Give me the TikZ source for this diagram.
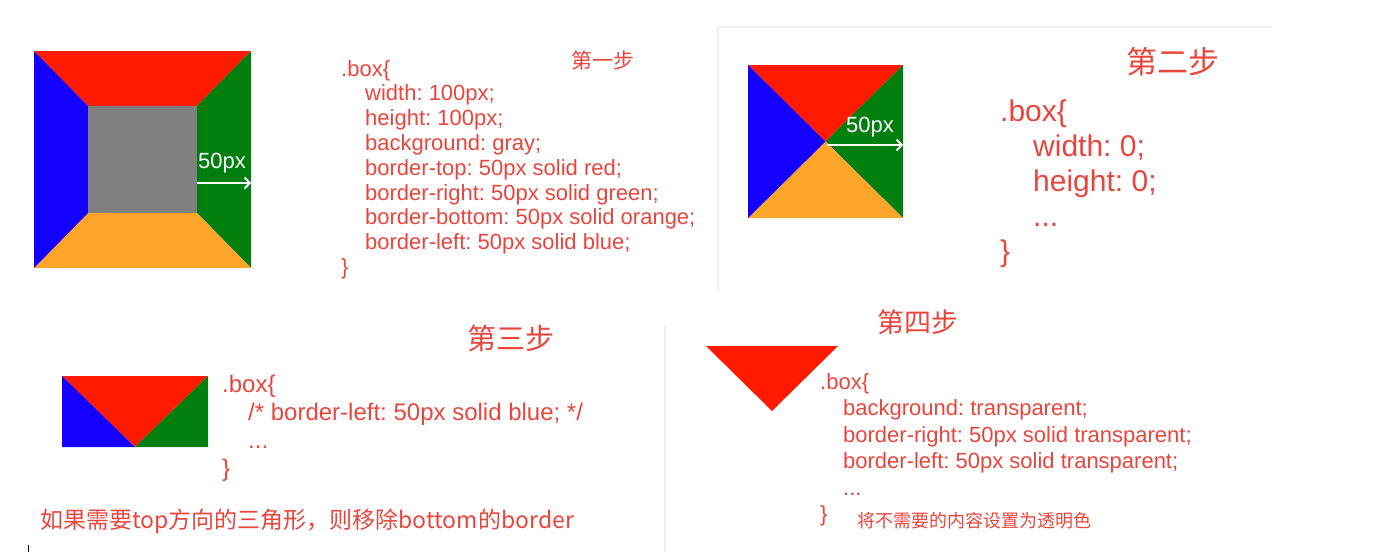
\documentclass[tikz,border=0pt]{standalone}
\usepackage{fontspec}
\setmainfont{Liberation Sans}
\newfontfamily\cjk{Noto Sans CJK SC}
\frenchspacing
\usetikzlibrary{arrows.meta}
\definecolor{boxred}{HTML}{FF1A00}
\definecolor{boxgreen}{HTML}{007F0F}
\definecolor{boxblue}{HTML}{1400FF}
\definecolor{boxorange}{HTML}{FFA52A}
\definecolor{boxgray}{HTML}{808080}
\definecolor{ink}{HTML}{E8453C}
\definecolor{rule}{HTML}{F0F0F0}

\begin{document}
\begin{tikzpicture}[x=1pt,y=-1pt,
 code/.style={text=ink,inner sep=0pt,anchor=north west,align=left},
 steptitle/.style={text=ink,inner sep=0pt,font=\cjk\fontsize{#1}{#1}\selectfont},
 pxlabel/.style={text=white,inner sep=0pt,font=\fontsize{22}{22}\selectfont},
 pxarrow/.style={draw=white,line width=2pt,-{Straight Barb[length=5pt,width=11pt]}},
 panel/.style={draw=rule,line width=1.2pt}]
\useasboundingbox (0,0) rectangle (1376,552);
% panel edges
\draw[panel] (718,290) -- (718,27) -- (1272,27);
\draw[panel] (665,325) -- (665,552);
\draw[black,line width=0.8pt] (28,545) -- (28,552);

% step 1
\fill[boxred] (34,51) -- (251,51) -- (197,106) -- (88,106) -- cycle;
\fill[boxgreen] (251,51) -- (251,268) -- (197,213) -- (197,106) -- cycle;
\fill[boxorange] (251,268) -- (34,268) -- (88,213) -- (197,213) -- cycle;
\fill[boxblue] (34,268) -- (34,51) -- (88,106) -- (88,213) -- cycle;
\fill[boxgray] (88,106) rectangle (197,213);
\coordinate (in1) at (197,183);
\coordinate (out1) at (251,183);
\draw[pxarrow] (in1) -- (out1);
\node[pxlabel] (px1) at (222,163) {50px};
\node[steptitle=21] (s1) at (603,60) {第一步};
\node[code,font=\fontsize{22}{24.8}\selectfont] (c1) at (341,60) {.box\{\\
 \hspace*{24pt}width: 100px;\\
 \hspace*{24pt}height: 100px;\\
 \hspace*{24pt}background: gray;\\
 \hspace*{24pt}border-top: 50px solid red;\\
 \hspace*{24pt}border-right: 50px solid green;\\
 \hspace*{24pt}border-bottom: 50px solid orange;\\
 \hspace*{24pt}border-left: 50px solid blue;\\
 \}};

% step 2
\fill[boxred] (748,65) -- (903,65) -- (825.5,141.5) -- cycle;
\fill[boxgreen] (903,65) -- (903,218) -- (825.5,141.5) -- cycle;
\fill[boxorange] (903,218) -- (748,218) -- (825.5,141.5) -- cycle;
\fill[boxblue] (748,218) -- (748,65) -- (825.5,141.5) -- cycle;
\coordinate (in2) at (827,145);
\coordinate (out2) at (903,145);
\draw[pxarrow] (in2) -- (out2);
\node[pxlabel] (px2) at (870,127) {50px};
\node[steptitle=31] (s2) at (1173,62) {第二步};
\node[code,font=\fontsize{30}{35}\selectfont] (c2) at (1000,100) {.box\{\\
 \hspace*{33pt}width: 0;\\
 \hspace*{33pt}height: 0;\\
 \hspace*{33pt}...\\
 \}};

% step 3
\fill[boxred] (62,376) -- (208,376) -- (135,447) -- cycle;
\fill[boxgreen] (208,376) -- (208,447) -- (135,447) -- cycle;
\fill[boxblue] (62,376) -- (135,447) -- (62,447) -- cycle;
\node[steptitle=29] (s3) at (511,338) {第三步};
\node[code,font=\fontsize{24}{28}\selectfont] (c3) at (222,374.5) {.box\{\\
 \hspace*{26pt}/* border-left: 50px solid blue; */\\
 \hspace*{26pt}...\\
 \}};
\node[steptitle=23,anchor=west] (n3) at (40,521) {如果需要top方向的三角形，则移除bottom的border};

% step 4
\fill[boxred] (706,346) -- (838,346) -- (772,411) -- cycle;
\node[steptitle=27] (s4) at (918,322) {第四步};
\node[code,font=\fontsize{22}{26.5}\selectfont] (c4) at (820,373) {.box\{\\
 \hspace*{23pt}background: transparent;\\
 \hspace*{23pt}border-right: 50px solid transparent;\\
 \hspace*{23pt}border-left: 50px solid transparent;\\
 \hspace*{23pt}...\\
 \}};
\node[steptitle=18,anchor=west] (n4) at (857,521) {将不需要的内容设置为透明色};
\end{tikzpicture}
\end{document}
